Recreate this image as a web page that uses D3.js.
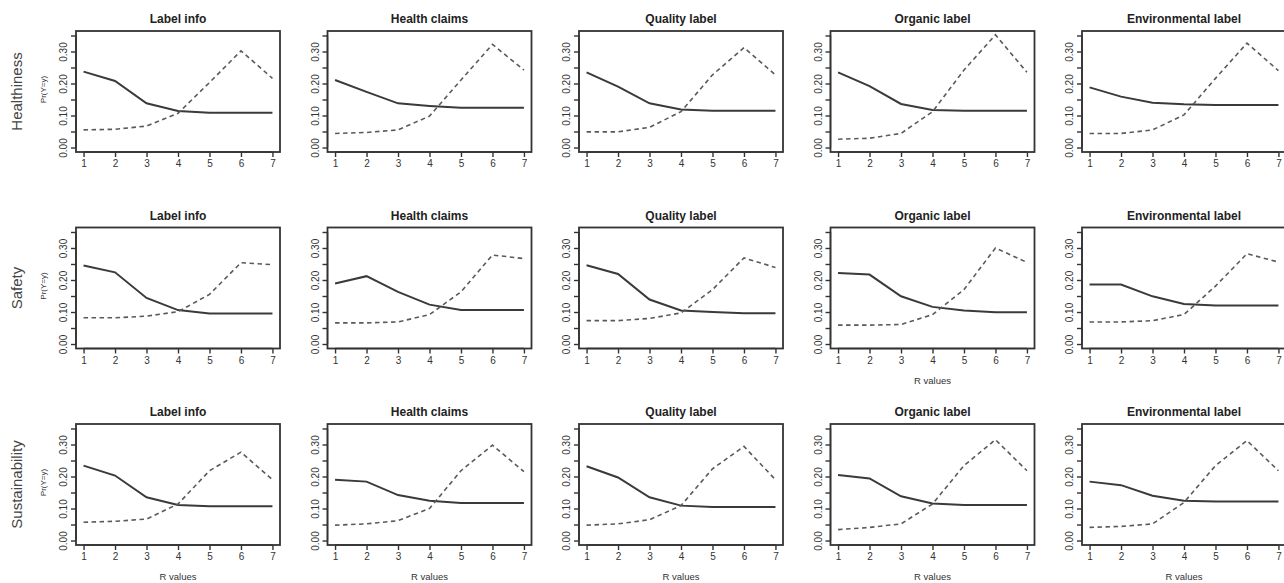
<!DOCTYPE html>
<html>
<head>
<meta charset="utf-8">
<script src="https://cdn.jsdelivr.net/npm/d3@7"></script>
<style>
  body { margin: 0; background: #fff; }
  svg { display: block; font-family: "Liberation Sans", Arial, sans-serif; }
</style>
</head>
<body>
<svg width="1284" height="583"></svg>
<script>
// categories
var rowLabels = ['Healthiness', 'Safety', 'Sustainability'];
var colLabels = ['Label info', 'Health claims', 'Quality label', 'Organic label', 'Environmental label'];
var rValues = [1, 2, 3, 4, 5, 6, 7];
var yTicks = [0, 0.05, 0.10, 0.15, 0.20, 0.25, 0.30, 0.35];
var yTickLabels = ['0.00', '', '0.10', '', '0.20', '', '0.30', ''];

// solid line, one array per column
var healthSolid = [
  [0.237, 0.208, 0.138, 0.114, 0.109, 0.109, 0.109],
  [0.211, 0.174, 0.138, 0.130, 0.124, 0.124, 0.124],
  [0.235, 0.190, 0.138, 0.119, 0.115, 0.115, 0.115],
  [0.235, 0.192, 0.136, 0.117, 0.115, 0.115, 0.115],
  [0.188, 0.159, 0.140, 0.135, 0.133, 0.133, 0.133]
];
var healthDashed = [
  [0.055, 0.057, 0.067, 0.107, 0.203, 0.302, 0.216],
  [0.044, 0.047, 0.055, 0.098, 0.211, 0.322, 0.242],
  [0.049, 0.049, 0.063, 0.112, 0.227, 0.312, 0.227],
  [0.026, 0.029, 0.044, 0.112, 0.242, 0.352, 0.235],
  [0.044, 0.044, 0.055, 0.102, 0.216, 0.326, 0.240]
];
var safetySolid = [
  [0.245, 0.224, 0.144, 0.106, 0.095, 0.095, 0.095],
  [0.189, 0.212, 0.163, 0.123, 0.106, 0.106, 0.106],
  [0.246, 0.219, 0.139, 0.105, 0.100, 0.096, 0.096],
  [0.222, 0.217, 0.149, 0.116, 0.105, 0.099, 0.099],
  [0.186, 0.186, 0.149, 0.125, 0.120, 0.120, 0.120]
];
var safetyDashed = [
  [0.082, 0.082, 0.087, 0.101, 0.155, 0.254, 0.248],
  [0.066, 0.066, 0.069, 0.092, 0.163, 0.278, 0.267],
  [0.073, 0.073, 0.080, 0.097, 0.170, 0.269, 0.239],
  [0.059, 0.059, 0.061, 0.092, 0.170, 0.300, 0.255],
  [0.069, 0.069, 0.073, 0.092, 0.181, 0.282, 0.256]
];
var sustSolid = [
  [0.234, 0.203, 0.135, 0.111, 0.107, 0.107, 0.107],
  [0.190, 0.184, 0.142, 0.124, 0.117, 0.117, 0.117],
  [0.232, 0.197, 0.135, 0.109, 0.105, 0.105, 0.105],
  [0.205, 0.194, 0.138, 0.116, 0.111, 0.111, 0.111],
  [0.184, 0.173, 0.140, 0.124, 0.122, 0.122, 0.122]
];
var sustDashed = [
  [0.057, 0.060, 0.067, 0.114, 0.218, 0.276, 0.190],
  [0.048, 0.052, 0.062, 0.100, 0.218, 0.298, 0.215],
  [0.048, 0.052, 0.065, 0.109, 0.224, 0.294, 0.190],
  [0.034, 0.041, 0.052, 0.114, 0.234, 0.315, 0.218],
  [0.041, 0.044, 0.052, 0.119, 0.234, 0.312, 0.218]
];
var solidRows = [healthSolid, safetySolid, sustSolid];
var dashedRows = [healthDashed, safetyDashed, sustDashed];

var svg = d3.select('svg');
var pw = 204, ph = 121;
var font = '"Liberation Sans", Arial, sans-serif';

// which panels get an "R values" label
function hasXTitle(r, c) { return r == 2 || (r == 1 && c == 3); }

function drawPanel(r, c, panelTop) {
  var panelLeft = 76 + c * 251.5;
  var g = svg.append('g').attr('transform', 'translate(' + panelLeft + ',' + panelTop + ')');
  var x = d3.scaleLinear().domain([0.76, 7.24]).range([0, pw]);
  var y = d3.scaleLinear().domain([-0.014, 0.364]).range([ph, 0]);

  // y axis
  var ya = g.append('g').call(d3.axisLeft(y).tickValues(yTicks).tickSize(5)
    .tickFormat(function (d, i) { return yTickLabels[i]; }));
  ya.select('.domain').remove();
  ya.append('line').attr('x1', 0).attr('x2', 0).attr('y1', y(0)).attr('y2', y(0.35))
    .attr('stroke', '#333').attr('stroke-width', 1.4);
  ya.selectAll('.tick line').attr('stroke', '#333').attr('stroke-width', 1.4);
  ya.selectAll('.tick text')
    .attr('transform', 'rotate(-90)')
    .attr('x', 0).attr('y', -9).attr('dy', 0)
    .attr('text-anchor', 'middle')
    .attr('font-size', 10).attr('fill', '#333')
    .attr('font-family', font);

  // x axis
  var xa = g.append('g').attr('transform', 'translate(0,' + ph + ')')
    .call(d3.axisBottom(x).tickValues(rValues).tickSize(5).tickFormat(d3.format('d')));
  xa.select('.domain').remove();
  xa.append('line').attr('x1', x(1)).attr('x2', x(7)).attr('y1', 0).attr('y2', 0)
    .attr('stroke', '#333').attr('stroke-width', 1.4);
  xa.selectAll('.tick line').attr('stroke', '#333').attr('stroke-width', 1.4);
  xa.selectAll('.tick text').attr('y', 8).attr('font-size', 10).attr('fill', '#333')
    .attr('font-family', font);

  // frame
  g.append('rect').attr('x', 0).attr('y', 0).attr('width', pw).attr('height', ph)
    .attr('fill', 'none').attr('stroke', '#333').attr('stroke-width', 1.8);

  // title
  g.append('text').attr('x', pw / 2).attr('y', -8)
    .attr('text-anchor', 'middle').attr('font-size', 12).attr('font-weight', 'bold')
    .attr('fill', '#222').text(colLabels[c]);

  if (hasXTitle(r, c)) {
    g.append('text').attr('x', pw / 2).attr('y', ph + 35)
      .attr('text-anchor', 'middle').attr('font-size', 9.5).attr('fill', '#333')
      .text('R values');
  }

  var line = d3.line().x(function (d, i) { return x(rValues[i]); }).y(function (d) { return y(d); });
  g.append('path').datum(solidRows[r][c]).attr('d', line)
    .attr('fill', 'none').attr('stroke', '#3a3a3a').attr('stroke-width', 2);
  g.append('path').datum(dashedRows[r][c]).attr('d', line)
    .attr('fill', 'none').attr('stroke', '#5a5a5a').attr('stroke-width', 1.6)
    .attr('stroke-dasharray', '4.5,3.5');
}

for (var r = 0; r < 3; r++) {
  var rowTop = 31 + r * 196.5;
  svg.append('text')
    .attr('transform', 'translate(22,' + (rowTop + ph / 2) + ') rotate(-90)')
    .attr('text-anchor', 'middle')
    .attr('font-size', 15).attr('fill', '#444')
    .text(rowLabels[r]);
  svg.append('text')
    .attr('transform', 'translate(46,' + (rowTop + ph / 2 - 2) + ') rotate(-90)')
    .attr('text-anchor', 'middle')
    .attr('font-size', 8).attr('fill', '#333')
    .text('Pr(Y=y)');
  for (var c = 0; c < 5; c++) drawPanel(r, c, rowTop);
}
</script>
</body>
</html>
